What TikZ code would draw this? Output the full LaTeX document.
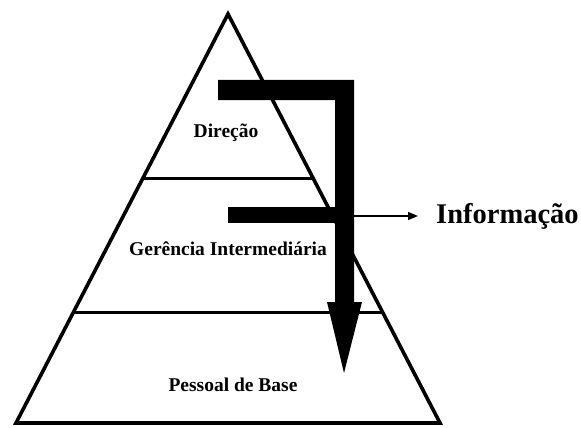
\documentclass[tikz,border=0pt]{standalone}
\usepackage{fontspec}
\setmainfont{Liberation Serif}
\usetikzlibrary{arrows.meta,calc}
\begin{document}
\begin{tikzpicture}[x=1pt,y=-1pt,
  levelline/.style={line width=3.6pt},
  lbl/.style={font=\bfseries\fontsize{19.5}{22}\selectfont, inner sep=0pt},
  biglbl/.style={font=\bfseries\fontsize{28.5}{32}\selectfont, inner sep=0pt, anchor=west},
  bar/.style={fill=black, draw=none},
  thinarrow/.style={line width=1.6pt, -{Triangle[length=10pt,width=8pt]}}]
\useasboundingbox (0,0) rectangle (581,428);
% pyramid
\coordinate (apex) at (228,14);
\coordinate (bl) at (16,423);
\coordinate (br) at (440,423);
\draw[levelline, line join=miter] (apex) -- (bl) -- (br) -- cycle;
\coordinate (l1a) at ($(apex)!0.4025!(bl)$);
\coordinate (l1b) at ($(apex)!0.4025!(br)$);
\coordinate (l2a) at ($(apex)!0.7302!(bl)$);
\coordinate (l2b) at ($(apex)!0.7302!(br)$);
\draw[levelline] (l1a) -- (l1b);
\draw[levelline] (l2a) -- (l2b);
% labels
\node[lbl] (dir) at (226,133) {Direção};
\node[lbl] (ger) at (228,249) {Gerência Intermediária};
\node[lbl] (pes) at (233,385) {Pessoal de Base};
% thick information flow
\fill[bar] (218,80) -- (354,80) -- (354,302) -- (362,302) -- (344,373) -- (327,302) -- (335,302) -- (335,100) -- (218,100) -- cycle;
\fill[bar] (228,207) rectangle (353,223);
% output arrow
\coordinate (out) at (354,216);
\node[biglbl] (info) at (436,216) {Informação};
\draw[thinarrow] (out) -- ([xshift=-18pt]info.west);
\end{tikzpicture}
\end{document}
